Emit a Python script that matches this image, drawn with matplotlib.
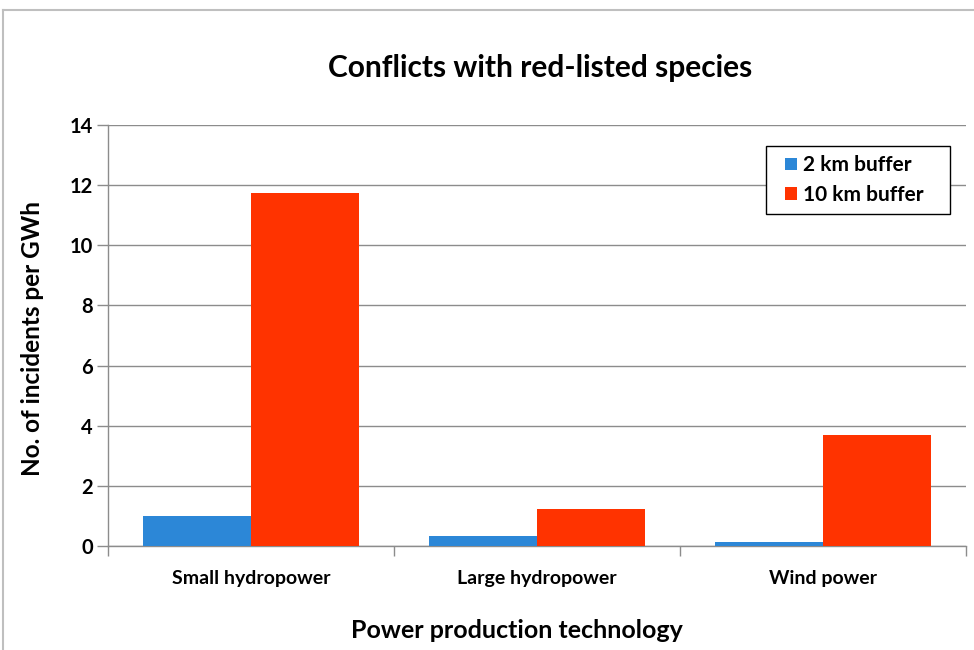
import matplotlib
matplotlib.use("Agg")
import matplotlib.pyplot as plt
import numpy as np
from matplotlib.lines import Line2D
from matplotlib.patches import Rectangle

plt.rcParams['font.family'] = ['Lato', 'DejaVu Sans']

categories = ["Small hydropower", "Large hydropower", "Wind power"]
buffer_2km = [1.0, 0.33, 0.13]
buffer_10km = [11.75, 1.23, 3.69]
series_names = ["2 km buffer", "10 km buffer"]
yticks = [0, 2, 4, 6, 8, 10, 12, 14]

blue = "#2C87D7"
red = "#FF3300"
axis_gray = "#8C8C8C"

fig = plt.figure(figsize=(9.74, 6.5), dpi=100)
ax = fig.add_axes([0.1109, 0.16, 0.881, 0.6477])

x = np.arange(len(categories))
w = 0.378
ax.bar(x - w / 2, buffer_2km, width=w, color=blue, label=series_names[0], zorder=3)
ax.bar(x + w / 2, buffer_10km, width=w, color=red, label=series_names[1], zorder=3)

ax.set_xlim(-0.5, len(categories) - 0.5)
ax.set_ylim(0, 14)
ax.set_yticks(yticks)
ax.set_yticklabels([str(t) for t in yticks], fontsize=14.5, fontweight='bold')
ax.yaxis.grid(True, color=axis_gray, linewidth=1.0, zorder=0)
ax.set_axisbelow(True)

# category labels centred, ticks at group boundaries
ax.set_xticks(x)
ax.set_xticklabels(categories, fontsize=14, fontweight='bold')
ax.tick_params(axis='x', length=0, pad=17)
ax.set_xticks(np.arange(-0.5, len(categories)), minor=True)
ax.tick_params(axis='x', which='minor', length=7, color=axis_gray, width=1.0)
ax.tick_params(axis='y', length=8, color=axis_gray, width=1.0, pad=3)

for s in ['top', 'right']:
    ax.spines[s].set_visible(False)
for s in ['left', 'bottom']:
    ax.spines[s].set_color(axis_gray)
    ax.spines[s].set_linewidth(1.0)

fig.text(517 / 974, 1 - 630 / 650, "Power production technology", ha='center', va='center',
         fontsize=18, fontweight='bold')
fig.text(33 / 974, 1 - 339 / 650, "No. of incidents per GWh", ha='center', va='center',
         rotation=90, fontsize=17.5, fontweight='bold')
fig.text(540 / 974, 1 - 68 / 650, "Conflicts with red-listed species", ha='center', va='center',
         fontsize=21.5, fontweight='bold')

# legend without its own frame; a wider box is drawn around it below
leg = ax.legend(loc='upper right', bbox_to_anchor=(0.9615, 0.950),
                prop={'weight': 'bold', 'size': 15}, frameon=False,
                handlelength=0.55, handleheight=0.55, handletextpad=0.3,
                borderpad=0.45, labelspacing=0.45, borderaxespad=0)
leg.set_zorder(6)

fig.canvas.draw()
bb = leg.get_window_extent()
pad_left, pad_right = 10, 17
ax.add_patch(Rectangle((bb.x0 - pad_left, bb.y0), bb.width + pad_left + pad_right, bb.height,
                       transform=None, facecolor='white', edgecolor='black',
                       linewidth=1.0, zorder=5, clip_on=False))

# outer chart-area border (top and left edges)
fig.add_artist(Line2D([0.0031, 0.0031], [0.0, 0.985], transform=fig.transFigure,
                      color="#BFBFBF", linewidth=1.5))
fig.add_artist(Line2D([0.0031, 1.0], [0.985, 0.985], transform=fig.transFigure,
                      color="#BFBFBF", linewidth=1.5))

fig.savefig("out.png", dpi=100)
